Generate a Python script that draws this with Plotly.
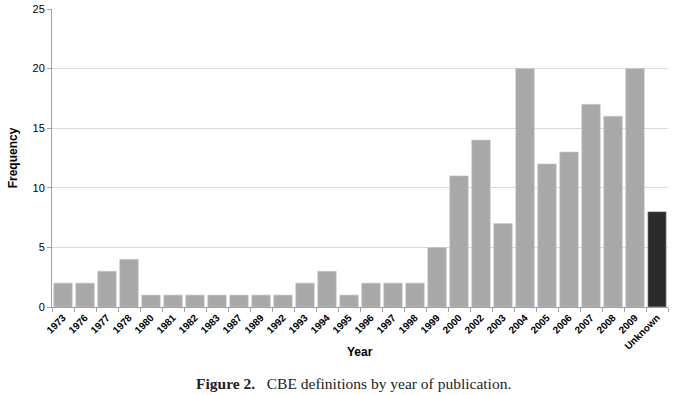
import plotly.graph_objects as go

years = ["1973","1976","1977","1978","1980","1981","1982","1983","1987","1989","1992",
         "1993","1994","1995","1996","1997","1998","1999","2000","2002","2003","2004",
         "2005","2006","2007","2008","2009","Unknown"]
freq = [2,2,3,4,1,1,1,1,1,1,1,2,3,1,2,2,2,5,11,14,7,20,12,13,17,16,20,8]
y_ticks = [0,5,10,15,20,25]

colors = ["#2b2b2b" if y == "Unknown" else "#a8a8a8" for y in years]

fig = go.Figure(go.Bar(
    x=years, y=freq, marker=dict(color=colors, line=dict(color="#c8c8c8", width=0.6)),
))

fig.update_layout(
    width=683, height=395,
    margin=dict(l=52, r=15, t=9, b=88),
    plot_bgcolor="white", paper_bgcolor="white",
    bargap=0.16,
    showlegend=False,
    font=dict(family="Liberation Sans, Arial", color="black"),
    annotations=[
        dict(text="<b>Year</b>", x=0.5, xref="paper", y=0, yref="paper",
             xanchor="center", yanchor="middle", showarrow=False, yshift=-45,
             font=dict(size=12, family="Liberation Sans, Arial", color="black")),
        dict(text="<b>Figure 2.</b>   CBE definitions by year of publication.",
             x=0.49, xref="paper", y=0, yref="paper",
             xanchor="center", yanchor="middle", showarrow=False, yshift=-76,
             font=dict(family="Liberation Serif, Times New Roman, serif", size=15.5, color="#222")),
    ],
)
fig.update_xaxes(
    type="category", tickangle=-45, automargin=False,
    tickfont=dict(size=10, family="Liberation Sans, Arial"),
    tickprefix="<b>", ticksuffix="</b>",
    showline=True, linecolor="#a0a0a0", linewidth=1,
    ticks="outside", tickson="boundaries", ticklen=4, tickcolor="#a0a0a0",
)
fig.update_yaxes(
    range=[0, 25], tickvals=y_ticks, tickfont=dict(size=11), automargin=False,
    showgrid=True, gridcolor="#d9d9d9", gridwidth=1,
    showline=True, linecolor="#a0a0a0", linewidth=1,
    ticks="outside", ticklen=4, tickcolor="#a0a0a0",
    zeroline=False,
    title=dict(text="<b>Frequency</b>", font=dict(size=12), standoff=12),
)

fig.write_html("out.html", config={"displayModeBar": False},
               post_script="document.body.style.margin='0px';")
